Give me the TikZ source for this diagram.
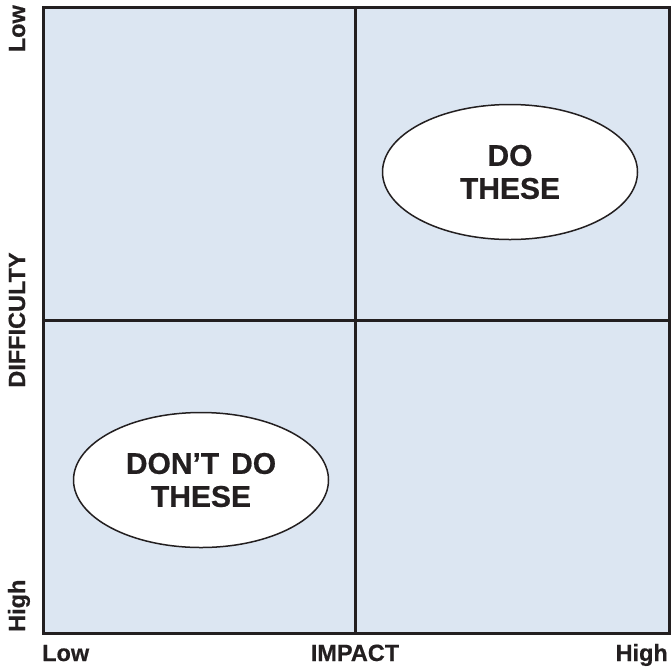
\documentclass[tikz,border=0pt]{standalone}
\usepackage{fontspec}
\setmainfont{Liberation Sans}[BoldFeatures={FakeBold=0.6}]
\usetikzlibrary{shapes.geometric}
\definecolor{quadfill}{HTML}{DCE6F2}
\definecolor{inkline}{HTML}{231F20}
\begin{document}
\begin{tikzpicture}[x=1pt,y=-1pt,
  axislabel/.style={font=\bfseries\fontsize{23.5}{25}\selectfont, text=inkline, inner sep=0pt},
  bubble/.style={ellipse, draw=inkline, line width=1.5pt, fill=white,
    minimum width=255pt, minimum height=135pt, align=center,
    font=\bfseries\fontsize{30}{33}\selectfont, text=inkline}]
  \useasboundingbox (0,0) rectangle (671,670);
  % quadrant field
  \node[draw=inkline, line width=3pt, fill=quadfill, minimum width=626pt, minimum height=626pt,
        inner sep=0pt, anchor=north west] (field) at (42,6) {};
  \coordinate (midtop) at (355,6);
  \coordinate (midbot) at (355,632);
  \coordinate (midleft) at (42,320);
  \coordinate (midright) at (668,320);
  \draw[inkline, line width=3pt] (midtop) -- (midbot);
  \draw[inkline, line width=3pt] (midleft) -- (midright);
  % bubbles
  \node[bubble] (dothese) at (510,172) {DO\\THESE};
  \node[bubble] (dontdo) at (201,480) {DON’T\hspace{0.12em} DO\\THESE};
  % horizontal axis
  \node[axislabel, anchor=base west] (xlow) at (42,661) {Low};
  \node[axislabel, anchor=base] (ximpact) at (355,661) {IMPACT};
  \node[axislabel, anchor=base east] (xhigh) at (668,661) {High};
  % vertical axis
  \node[axislabel, rotate=90, anchor=base east] (ylow) at (25,5) {Low};
  \node[axislabel, rotate=90, anchor=base] (ydiff) at (25,320) {DIFFICULTY};
  \node[axislabel, rotate=90, anchor=base west] (yhigh) at (25,632) {High};
\end{tikzpicture}
\end{document}
